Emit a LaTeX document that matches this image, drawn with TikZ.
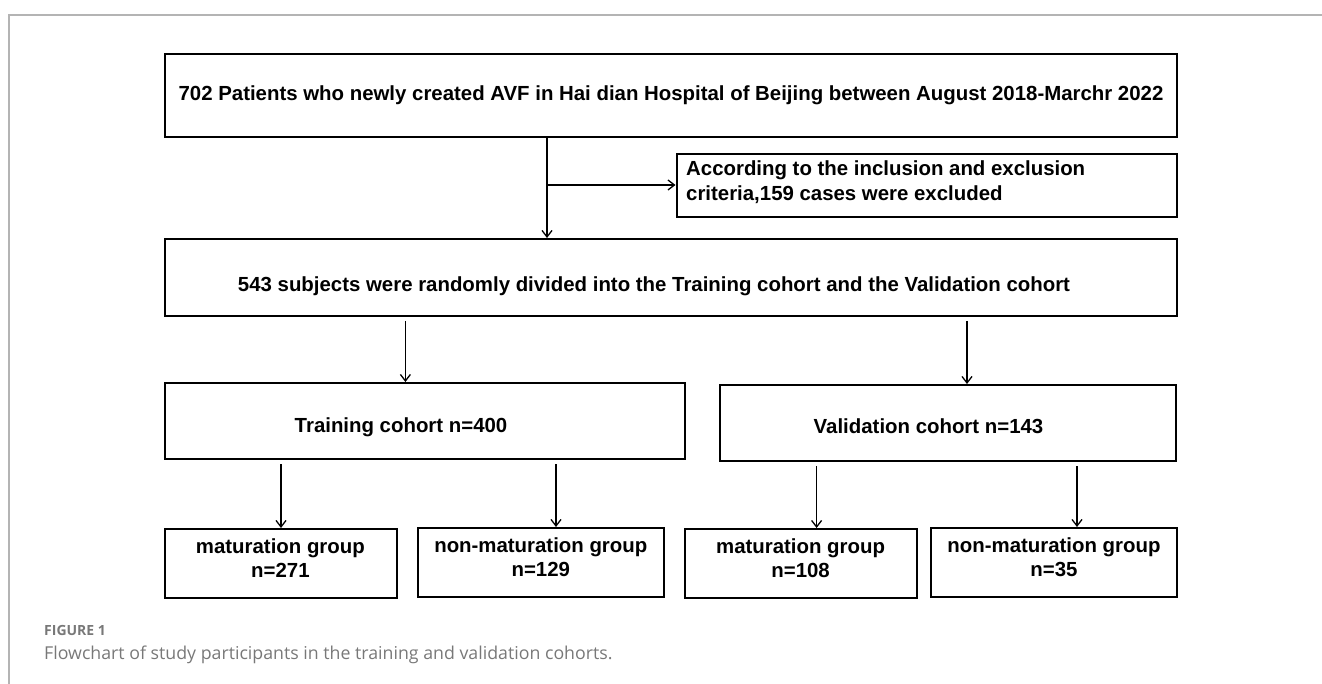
\documentclass[tikz,border=0pt]{standalone}
\usepackage{fontspec}
\setmainfont{Liberation Sans}
\newfontfamily\capfont{Open Sans}
\usetikzlibrary{arrows.meta,positioning}
\definecolor{framegray}{HTML}{B4B4B4}
\definecolor{capgray}{HTML}{787878}
\tikzset{
    %Define standard arrow tip
    >={Straight Barb[length=6.5pt,width=10pt]},
    %Define style for boxes
    box/.style={
           rectangle,
           draw=black, line width=2pt,
           inner sep=0pt},
    txt/.style={
           font=\fontsize{20.4}{24}\selectfont\bfseries,
           inner sep=0pt,
           align=center},
    % Define arrow style
    pil/.style={
           ->,
           line width=1.3pt},
    captext/.style={
           text=capgray,
           anchor=west,
           inner sep=0pt}
}

\begin{document}
\begin{tikzpicture}[x=1pt,y=-1pt]
\useasboundingbox (0,0) rectangle (1322,684);
% figure frame
\draw[framegray, line width=1.5pt] (1322,15) -- (9,15) -- (9,684);
% boxes
\node[box, txt, minimum width=1012pt, minimum height=83pt](pat) at (671,95.5){702 Patients who newly created AVF in Hai dian Hospital of Beijing between August 2018-Marchr 2022};
\node[box, minimum width=500.5pt, minimum height=63pt](excl) at (926.75,185.5){};
\node[txt, font=\fontsize{20.4}{25}\selectfont\bfseries, align=left, anchor=west](excl-t) at (686,182.5){According to the inclusion and exclusion\\criteria,159 cases were excluded};
\node[box, minimum width=1012pt, minimum height=77pt](subj) at (671,277.5){};
\node[txt](subj-t) at (654,286){543 subjects were randomly divided into the Training cohort and the Validation cohort};
\node[box, minimum width=520.3pt, minimum height=76pt](train) at (425.2,421){};
\node[txt](train-t) at (401,427){Training cohort n=400};
\node[box, minimum width=456pt, minimum height=76pt](valid) at (947.5,423){};
\node[txt](valid-t) at (928.5,426){Validation cohort n=143};
\node[box, minimum width=231.6pt, minimum height=69pt](tmat) at (280.8,563.5){};
\node[txt](tmat-t) at (280.4,558.5){maturation group\\n=271};
\node[box, minimum width=246.6pt, minimum height=69pt](tnon) at (540.9,562.5){};
\node[txt](tnon-t) at (540.8,557){non-maturation group\\n=129};
\node[box, minimum width=231.7pt, minimum height=69pt](vmat) at (801.2,563.5){};
\node[txt](vmat-t) at (800.6,558.5){maturation group\\n=108};
\node[box, minimum width=246pt, minimum height=69pt](vnon) at (1054,562.5){};
\node[txt](vnon-t) at (1054,557){non-maturation group\\n=35};
% caption
\node[captext, font=\capfont\bfseries\fontsize{14}{16}\selectfont](figno) at (44,630){FIGURE 1};
\node[captext, font=\capfont\fontsize{17.75}{20}\selectfont](caption) at (44,655){Flowchart of study participants in the training and validation cohorts.};
% arrows
\coordinate (split) at (547,185);
\path[pil]
    (pat.south -| split) edge (subj.north -| split)
    (split) edge (split -| excl.west);
\path[pil, shorten <=4pt]
    (subj.south -| 405.4,0) edge (train.north -| 405.4,0)
    (subj.south -| 967,0) edge (valid.north -| 967,0)
    (train.south -| 281,0) edge (tmat.north -| 281,0)
    (train.south -| 556,0) edge (tnon.north -| 556,0)
    (valid.south -| 816.6,0) edge (vmat.north -| 816.6,0)
    (valid.south -| 1077,0) edge (vnon.north -| 1077,0);
\end{tikzpicture}
\end{document}
